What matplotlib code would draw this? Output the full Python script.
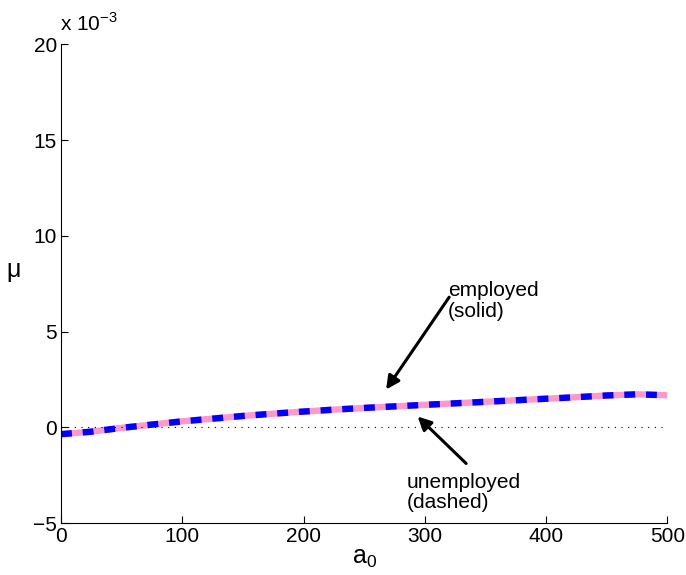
import matplotlib
matplotlib.use('Agg')
import matplotlib.pyplot as plt
import numpy as np

# values (mu in units of 1e-3)
a0 = [0, 25, 50, 75, 100, 125, 150, 175, 200, 225, 250, 275, 300, 325, 350,
      375, 400, 425, 450, 475, 500]
mu_emp = [-0.35, -0.22, -0.02, 0.15, 0.32, 0.46, 0.6, 0.72, 0.83, 0.93, 1.02,
          1.1, 1.18, 1.26, 1.34, 1.42, 1.5, 1.58, 1.67, 1.73, 1.68]
mu_unemp = mu_emp

plt.rcParams['font.family'] = ['Liberation Sans', 'DejaVu Sans']
plt.rcParams['font.size'] = 15

fig = plt.figure(figsize=(6.86, 5.75), dpi=100)
ax = fig.add_axes([0.089, 0.09, 0.884, 0.833])

x = np.array(a0)
ax.plot(x, np.array(mu_emp) * 1e-3, '-', color='#ff99cc', lw=4.6, solid_capstyle='butt')
ax.plot(x, np.array(mu_unemp) * 1e-3, '--', color='#0000ff', lw=4.6, dashes=(1.7, 1.7))
ax.axhline(0, color='k', ls=':', lw=0.8, dashes=(1, 5))

ax.set_xlim(0, 500)
ax.set_ylim(-5e-3, 20e-3)
ax.set_xticks([0, 100, 200, 300, 400, 500])
ax.set_yticks([-5e-3, 0, 5e-3, 10e-3, 15e-3, 20e-3])
ax.set_yticklabels(['\u22125', '0', '5', '10', '15', '20'])
ax.tick_params(direction='in', length=5, width=0.8, pad=3)
ax.spines['top'].set_visible(False)
ax.spines['right'].set_visible(False)

fig.text(0.087, 0.94, r'x 10$^{\mathregular{-3}}$', fontsize=15, ha='left', va='bottom')
ax.set_xlabel(r'a$_{\mathregular{0}}$', fontsize=18, labelpad=0)
ax.set_ylabel(r'$\mathregular{\mu}$', fontsize=18, rotation=0, labelpad=14)

arrow = dict(arrowstyle='-|>', color='k', lw=2.2, mutation_scale=20,
             shrinkA=0, shrinkB=0)
ax.annotate('', xy=(268, 1.98e-3), xytext=(320, 6.8e-3), arrowprops=arrow)
ax.text(319, 6.6e-3, 'employed\n(solid)', ha='left', va='center', linespacing=1.1)
ax.annotate('', xy=(294, 0.57e-3), xytext=(334, -1.88e-3), arrowprops=arrow)
ax.text(285, -3.4e-3, 'unemployed\n(dashed)', ha='left', va='center', linespacing=1.1)

fig.savefig('out.png')
